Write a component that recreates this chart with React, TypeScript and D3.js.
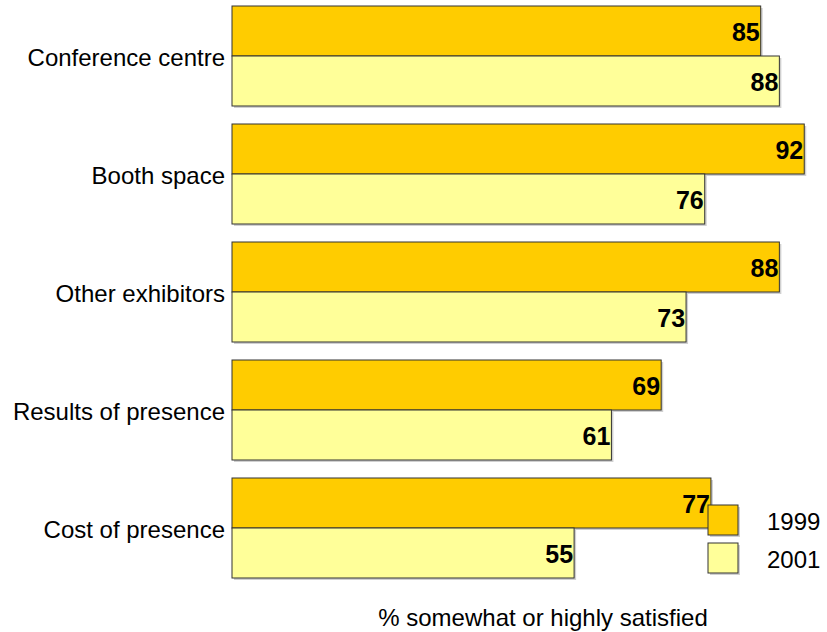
import React from "react";
import * as d3 from "d3";

const categories = ["Conference centre", "Booth space", "Other exhibitors", "Results of presence", "Cost of presence"];
const series = ["1999", "2001"];
const values1999 = [85, 92, 88, 69, 77];
const values2001 = [88, 76, 73, 61, 55];
const colors = ["#FFCC00", "#FFFF99"];
const axisTitle = "% somewhat or highly satisfied";

const W = 827;
const H = 632;
const FONT = "'Liberation Sans', Arial, sans-serif";

export default function App() {
  const x = d3.scaleLinear().domain([0, 100]).range([232, 854]);
  const y = d3.scaleBand<string>().domain(categories).range([6, 578]).paddingInner(18 / 118).paddingOuter(0);
  const sub = d3.scaleBand<string>().domain(series).range([0, y.bandwidth()]);
  const data = [values1999, values2001];

  return (
    <svg width={W} height={H} style={{ position: "absolute", left: 0, top: 0, background: "#fff" }} fontFamily={FONT}>
      {categories.map((c, i) => (
        <g key={c}>
          {series.map((s, j) => {
            const v = data[j][i];
            const y0 = (y(c) as number) + (sub(s) as number);
            const h = sub.bandwidth();
            return (
              <g key={s}>
                <rect x={x(0) + 2} y={y0 + 2} width={x(v) - x(0)} height={h} fill="#b0b0b0" opacity={0.6} />
                <rect x={x(0)} y={y0} width={x(v) - x(0)} height={h} fill={colors[j]} stroke="#333" strokeWidth={1} />
              </g>
            );
          })}
          {series.map((s, j) => {
            const v = data[j][i];
            const y0 = (y(c) as number) + (sub(s) as number);
            return (
              <text key={s} x={x(v) - 1} y={y0 + sub.bandwidth() / 2 + 1} textAnchor="end" dominantBaseline="central" fontSize={25} fontWeight="bold" fill="#000">
                {v}
              </text>
            );
          })}
          <text x={225} y={(y(c) as number) + y.bandwidth() / 2 + 1} textAnchor="end" dominantBaseline="central" fontSize={24} fill="#000">
            {c}
          </text>
        </g>
      ))}
      {series.map((s, j) => (
        <g key={s}>
          <rect x={710} y={507 + j * 38} width={30} height={30} fill="#b0b0b0" opacity={0.6} />
          <rect x={708} y={505 + j * 38} width={30} height={30} fill={colors[j]} stroke="#333" strokeWidth={1} />
          <text x={767} y={521 + j * 38} dominantBaseline="central" fontSize={24} fill="#000">{s}</text>
        </g>
      ))}
      <text x={543} y={617} textAnchor="middle" dominantBaseline="central" fontSize={24} fill="#000">{axisTitle}</text>
    </svg>
  );
}
